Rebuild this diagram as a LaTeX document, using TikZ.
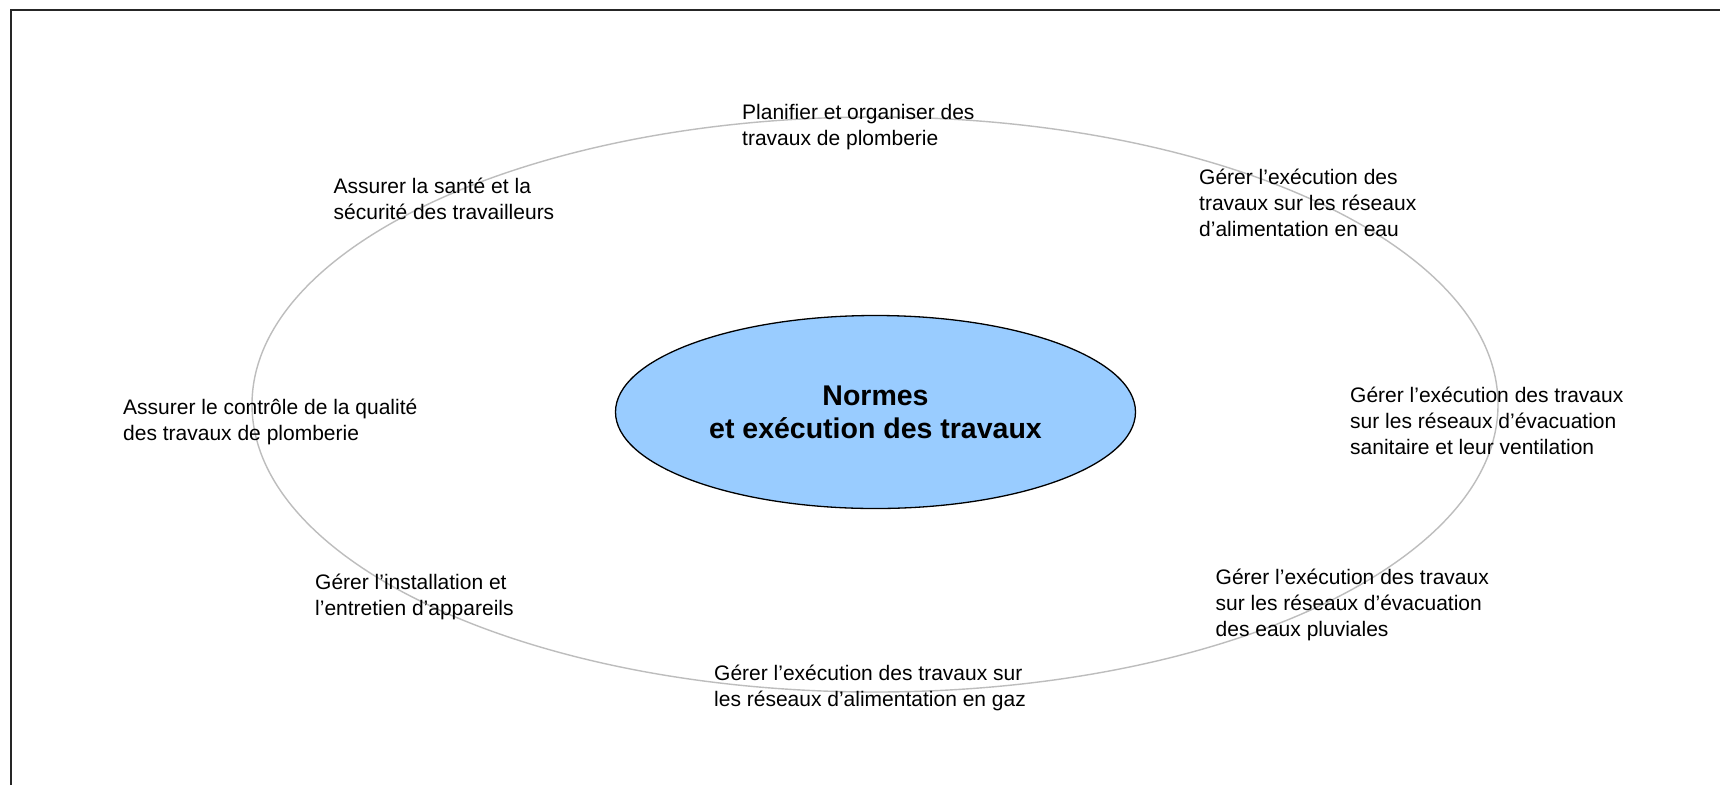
\documentclass[tikz,border=0pt]{standalone}
\usepackage{fontspec}
\setmainfont{Liberation Sans}
\usetikzlibrary{shapes.geometric}
\tikzset{
  lbl/.style={anchor=west, align=left, inner sep=0pt, font=\fontsize{21}{26}\selectfont},
  hub/.style={ellipse, draw=black, line width=1.3pt, fill=hubblue, minimum width=520pt, minimum height=193pt, inner sep=0pt, align=center, font=\fontsize{28.5}{33}\selectfont\bfseries},
  ring/.style={ellipse, draw=ringgray, line width=1.4pt, minimum width=1246pt, minimum height=575pt, inner sep=0pt},
  frame/.style={draw=black!85, line width=2pt}
}
\definecolor{hubblue}{HTML}{99CCFF}
\definecolor{ringgray}{HTML}{BDBDBD}
\begin{document}
\begin{tikzpicture}[x=1pt,y=-1pt]
\useasboundingbox (0,0) rectangle (1720,785);
\fill[white] (0,0) rectangle (1720,785);
\coordinate (fbl) at (11,785);
\coordinate (ftl) at (11,10);
\coordinate (ftr) at (1720,10);
\draw[frame] (fbl) -- (ftl) -- (ftr);
\node[ring] (ring) at (875,404.5) {};
\node[hub] (hub) at (875.5,412) {Normes\\et exécution des travaux};
\node[lbl] (t1) at (742,127) {Planifier et organiser des\\travaux de plomberie};
\node[lbl] (t2) at (333.5,199) {Assurer la santé et la\\sécurité des travailleurs};
\node[lbl] (t3) at (1199,203) {Gérer l’exécution des\\travaux sur les réseaux\\d’alimentation en eau};
\node[lbl] (t4) at (123,422) {Assurer le contrôle de la qualité\\des travaux de plomberie};
\node[lbl] (t5) at (1350,421) {Gérer l’exécution des travaux\\sur les réseaux d’évacuation\\sanitaire et leur ventilation};
\node[lbl] (t6) at (315,597) {Gérer l’installation et\\l’entretien d’appareils};
\node[lbl] (t7) at (1215.5,604.5) {Gérer l’exécution des travaux\\sur les réseaux d’évacuation\\des eaux pluviales};
\node[lbl] (t8) at (714,688) {Gérer l’exécution des travaux sur\\les réseaux d’alimentation en gaz};
\end{tikzpicture}
\end{document}
